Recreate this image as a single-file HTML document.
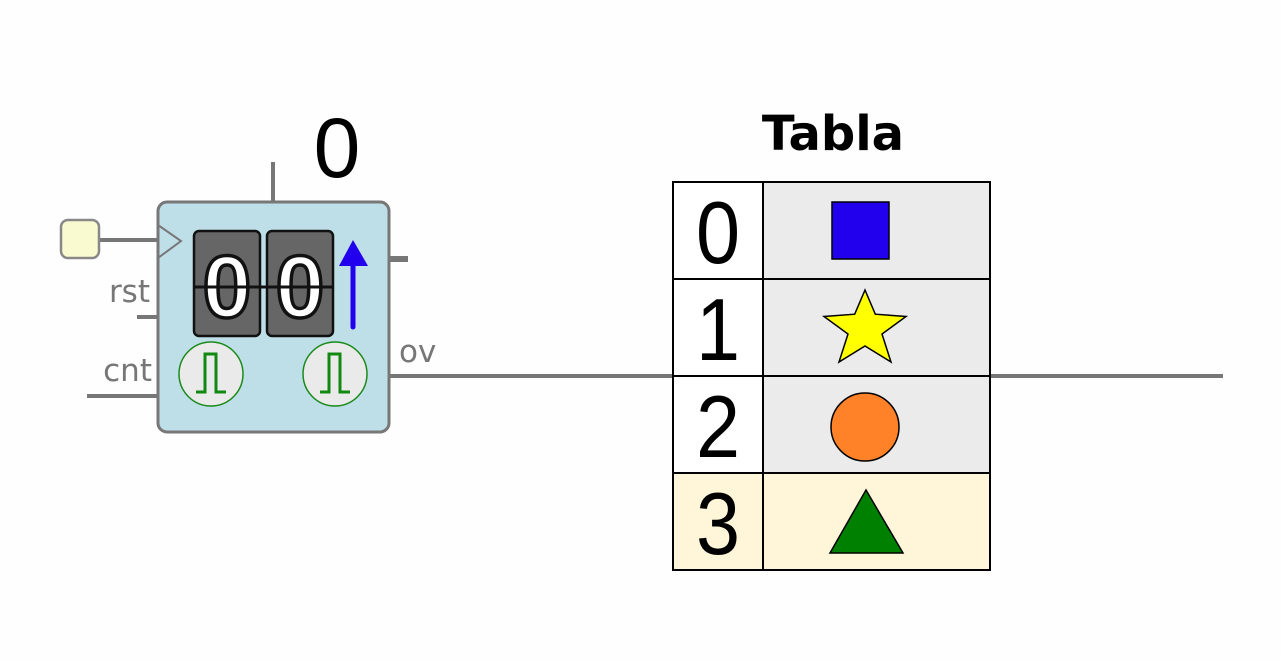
<!DOCTYPE html>
<html><head><meta charset="utf-8"><style>
html,body{margin:0;padding:0;background:#fdfefd;}
svg{display:block;font-family:"Liberation Sans","DejaVu Sans",sans-serif;}
</style></head><body>
<svg width="1281" height="662" viewBox="0 0 1281 662">
<rect x="0" y="0" width="1281" height="662" fill="#fdfefd"/>
<g stroke="#777" stroke-width="4" fill="none">
<line x1="273" y1="162" x2="273" y2="202"/>
<line x1="99" y1="240" x2="158" y2="240"/>
<line x1="137" y1="317" x2="158" y2="317"/>
<line x1="87" y1="396" x2="158" y2="396"/>
<line x1="389" y1="259" x2="408" y2="259" stroke-width="6"/>
<line x1="389" y1="376" x2="673" y2="376"/>
<line x1="990" y1="376" x2="1223" y2="376"/>
</g>
<rect x="61" y="220" width="38" height="38" rx="7" fill="#fafad0" stroke="#888" stroke-width="2.5"/>
<g>
<rect x="158" y="202" width="231" height="230" rx="9" fill="#bfdfe8" stroke="#777" stroke-width="3"/>
<polyline points="158,225 181,241 158,258" fill="none" stroke="#777" stroke-width="2"/>
<rect x="194" y="231" width="66" height="105" rx="5" fill="#666" stroke="#111" stroke-width="2.5"/>
<rect x="267" y="231" width="66" height="105" rx="5" fill="#666" stroke="#111" stroke-width="2.5"/>
<text x="227" y="317" font-size="88" font-weight="bold" text-anchor="middle" fill="#fff" stroke="#111" stroke-width="3.5">0</text>
<text x="300" y="317" font-size="88" font-weight="bold" text-anchor="middle" fill="#fff" stroke="#111" stroke-width="3.5">0</text>
<line x1="194" y1="287" x2="333" y2="287" stroke="#111" stroke-width="3"/>
<line x1="353" y1="327" x2="353" y2="262" stroke="#2200ee" stroke-width="5" stroke-linecap="round"/>
<polygon points="353,240 339,266 368,266" fill="#2200ee"/>
<circle cx="211" cy="374" r="32" fill="#eaeaea" stroke="#1a8a1a" stroke-width="1.5"/>
<polyline points="196,392 205,392 205,354 216,354 216,392 226,392" fill="none" stroke="#118811" stroke-width="3"/>
<circle cx="335" cy="374" r="32" fill="#eaeaea" stroke="#1a8a1a" stroke-width="1.5"/>
<polyline points="320,392 329,392 329,354 340,354 340,392 350,392" fill="none" stroke="#118811" stroke-width="3"/>
</g>
<text x="150" y="302" font-size="31" fill="#777" text-anchor="end" font-family="DejaVu Sans, sans-serif">rst</text>
<text x="152" y="381" font-size="31" fill="#777" text-anchor="end" font-family="DejaVu Sans, sans-serif">cnt</text>
<text x="399" y="362" font-size="31" fill="#777" font-family="DejaVu Sans, sans-serif">ov</text>
<text x="337" y="177" font-size="84" text-anchor="middle" fill="#000">0</text>
<text x="833" y="150" font-size="48" font-weight="bold" text-anchor="middle" fill="#000" font-family="DejaVu Sans, sans-serif">Tabla</text>
<g stroke="#000" stroke-width="2">
<rect x="673" y="182" width="90" height="97" fill="#fff"/>
<rect x="763" y="182" width="227" height="97" fill="#eaebea"/>
<rect x="673" y="279" width="90" height="97" fill="#fff"/>
<rect x="763" y="279" width="227" height="97" fill="#eaebea"/>
<rect x="673" y="376" width="90" height="97" fill="#fff"/>
<rect x="763" y="376" width="227" height="97" fill="#eaebea"/>
<rect x="673" y="473" width="90" height="97" fill="#fff5d8"/>
<rect x="763" y="473" width="227" height="97" fill="#fff5d8"/>
</g>
<g font-size="88" fill="#000" text-anchor="middle">
<text x="718" y="263" transform="translate(718 0) scale(0.9 1) translate(-718 0)">0</text>
<text x="718" y="360" transform="translate(718 0) scale(0.9 1) translate(-718 0)">1</text>
<text x="718" y="457" transform="translate(718 0) scale(0.9 1) translate(-718 0)">2</text>
<text x="718" y="554" transform="translate(718 0) scale(0.9 1) translate(-718 0)">3</text>
</g>
<rect x="832" y="202" width="57" height="57" fill="#2200ee" stroke="#000" stroke-width="1.5"/>
<polygon points="865,290 875.3,314.2 906,316.5 882,334 891,362 865,346 839,362 848,334 824,316.5 854.7,314.2" fill="#ffff00" stroke="#000" stroke-width="1.5"/>
<circle cx="865" cy="427" r="34" fill="#ff8228" stroke="#000" stroke-width="1.5"/>
<polygon points="866,490 830,553 903,553" fill="#008000" stroke="#000" stroke-width="1.5"/>
</svg>
</body></html>
